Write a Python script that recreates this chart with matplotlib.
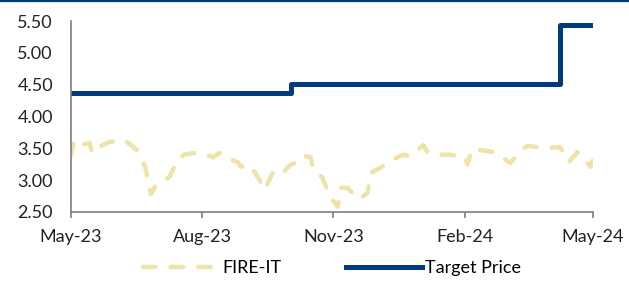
import matplotlib
matplotlib.use("Agg")
import matplotlib.pyplot as plt
import matplotlib.dates as mdates
from matplotlib.lines import Line2D
import pandas as pd

plt.rcParams["font.family"] = ["Lato", "DejaVu Sans"]

# FIRE-IT share price
fire_dates = ["2023-05-01", "2023-05-03", "2023-05-07", "2023-05-14", "2023-05-16",
              "2023-05-19", "2023-05-23", "2023-05-28", "2023-06-02", "2023-06-08",
              "2023-06-12", "2023-06-17", "2023-06-22", "2023-06-25", "2023-06-26",
              "2023-06-29", "2023-07-04", "2023-07-09", "2023-07-14", "2023-07-19",
              "2023-07-24", "2023-07-30", "2023-08-04", "2023-08-09", "2023-08-13",
              "2023-08-18", "2023-08-22", "2023-08-26", "2023-08-28", "2023-09-02",
              "2023-09-06", "2023-09-09", "2023-09-14", "2023-09-19", "2023-09-22",
              "2023-09-27", "2023-09-30", "2023-10-02", "2023-10-05", "2023-10-09",
              "2023-10-12", "2023-10-16", "2023-10-18", "2023-10-21", "2023-10-24",
              "2023-10-28", "2023-10-31", "2023-11-04", "2023-11-06", "2023-11-11",
              "2023-11-15", "2023-11-19", "2023-11-25", "2023-11-27", "2023-12-01",
              "2023-12-05", "2023-12-11", "2023-12-16", "2023-12-20", "2023-12-25",
              "2023-12-29", "2024-01-03", "2024-01-06", "2024-01-10", "2024-01-16",
              "2024-01-22", "2024-01-27", "2024-02-01", "2024-02-03", "2024-02-06",
              "2024-02-10", "2024-02-14", "2024-02-19", "2024-02-23", "2024-02-28",
              "2024-03-04", "2024-03-10", "2024-03-13", "2024-03-17", "2024-03-22",
              "2024-03-27", "2024-04-01", "2024-04-08", "2024-04-14", "2024-04-20",
              "2024-04-24", "2024-04-27", "2024-04-29", "2024-05-01"]
fire_price = [3.38, 3.62, 3.55, 3.58, 3.42,
              3.49, 3.55, 3.60, 3.61, 3.62,
              3.55, 3.46, 3.21, 2.90, 2.78,
              2.90, 2.98, 3.05, 3.28, 3.40,
              3.42, 3.43, 3.40, 3.36, 3.43,
              3.36, 3.32, 3.28, 3.21, 3.25,
              3.15, 3.05, 2.85, 3.10, 3.18,
              3.13, 3.20, 3.24, 3.27, 3.38,
              3.38, 3.36, 3.16, 3.10, 3.05,
              2.83, 2.70, 2.58, 2.88, 2.88,
              2.78, 2.70, 2.80, 3.11, 3.16,
              3.21, 3.30, 3.36, 3.40, 3.38,
              3.45, 3.55, 3.44, 3.40, 3.40,
              3.40, 3.38, 3.37, 3.25, 3.48,
              3.47, 3.47, 3.45, 3.44, 3.35,
              3.27, 3.42, 3.50, 3.54, 3.52,
              3.50, 3.51, 3.52, 3.28, 3.44,
              3.36, 3.28, 3.21, 3.31]

# target price changes (step line)
target_dates = ["2023-05-01", "2023-10-02", "2024-04-08", "2024-05-01"]
target_price = [4.37, 4.51, 5.44, 5.44]

x_ticks = ["2023-05-01", "2023-08-01", "2023-11-01", "2024-02-01", "2024-05-01"]
y_ticks = [2.5, 3.0, 3.5, 4.0, 4.5, 5.0, 5.5]

navy = "#003C7D"
sand = "#EEE3A8"
grey = "#7F7F7F"

fig = plt.figure(figsize=(6.29, 2.82), dpi=100)
ax = fig.add_axes([71 / 629, 1 - 212 / 282, 522 / 629, 191 / 282])

ax.plot(pd.to_datetime(fire_dates), fire_price, color=sand, lw=3.2,
        dashes=(2.8, 3.4), dash_capstyle="round", label="FIRE-IT")
ax.plot(pd.to_datetime(target_dates), target_price, color=navy, lw=3.6,
        drawstyle="steps-post", solid_joinstyle="round", label="Target Price")

ax.set_xlim(pd.Timestamp("2023-05-01"), pd.Timestamp("2024-05-01"))
ax.set_ylim(2.5, 5.5)
ax.set_xticks(pd.to_datetime(x_ticks))
ax.xaxis.set_major_formatter(mdates.DateFormatter("%b-%y"))
ax.set_yticks(y_ticks)
ax.set_yticklabels(["%.2f" % v for v in y_ticks])

for s in ["top", "right"]:
    ax.spines[s].set_visible(False)
for s in ["left", "bottom"]:
    ax.spines[s].set_color(grey)
    ax.spines[s].set_linewidth(1.2)
ax.tick_params(axis="x", length=4, width=1.2, color=grey, pad=8,
               labelsize=13, labelcolor="#222222")
ax.tick_params(axis="y", length=0, pad=13, labelsize=13, labelcolor="#222222")

ax.legend(loc="center", bbox_to_anchor=(0.5, -0.295), ncol=2, frameon=False,
          fontsize=13, handlelength=4.2, columnspacing=3.6, handletextpad=0.15)

# thin rule along the top edge
fig.add_artist(Line2D([0, 1], [0.996, 0.996], color=navy, lw=1.6,
                      transform=fig.transFigure))

fig.savefig("out.png", dpi=100)
